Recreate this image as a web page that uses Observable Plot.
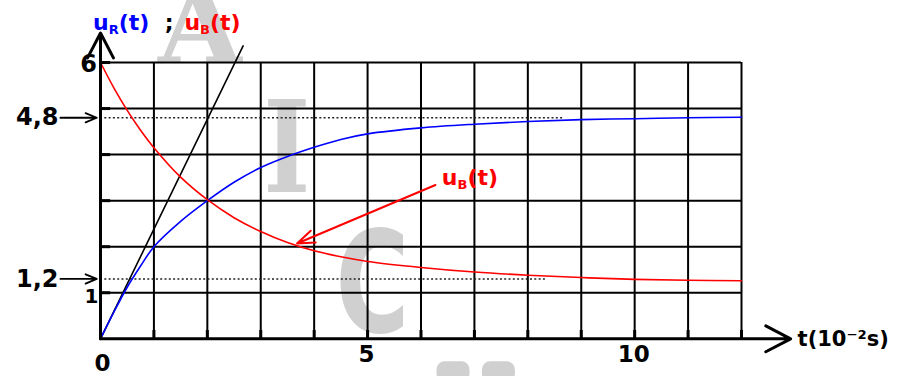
<!DOCTYPE html>
<html>
<head>
<meta charset="utf-8">
<script src="https://cdn.jsdelivr.net/npm/d3@7"></script>
<script src="https://cdn.jsdelivr.net/npm/@observablehq/plot@0.6"></script>
<style>
  html, body { margin: 0; padding: 0; background: #fff; }
</style>
</head>
<body>
<div id="chart"></div>
<script>
// ---- data ----
const tValues = [0, 0.25, 0.5, 0.75, 1, 1.5, 2, 2.5, 3, 3.5, 4, 4.5, 5, 6, 7, 8, 9, 10, 11, 12];
const uRValues = [0, 0.58, 1.12, 1.58, 2.0, 2.55, 3.0, 3.4, 3.72, 3.96, 4.16, 4.33, 4.45, 4.58, 4.66, 4.72, 4.76, 4.78, 4.80, 4.81];
const uBValues = [6.0, 5.45, 4.96, 4.53, 4.15, 3.51, 3.02, 2.63, 2.33, 2.09, 1.91, 1.78, 1.68, 1.55, 1.45, 1.38, 1.33, 1.29, 1.27, 1.26];
const tangentT = [0, 2.67];
const tangentU = [0, 6.36];
const xGrid = [1, 2, 3, 4, 5, 6, 7, 8, 9, 10, 11, 12];
const yGrid = [1, 2, 3, 4, 5, 6];
const dottedLevels = [4.8, 1.3];
const dottedEnds = [8.67, 8.33];
const dottedLabels = ["4,8", "1,2"];
const xTickValues = [5, 10];
const xTickLabels = ["5", "10"];

const font = "DejaVu Sans";
const blue = "#0000ff";
const red = "#ff0000";

const uR = tValues.map((t, i) => ({t, u: uRValues[i]}));
const uB = tValues.map((t, i) => ({t, u: uBValues[i]}));
const tangent = tangentT.map((t, i) => ({t, u: tangentU[i]}));
const dotted = dottedLevels.map((v, i) => ({v, end: dottedEnds[i], label: dottedLabels[i]}));
const xTicks = xTickValues.map((v, i) => ({v, label: xTickLabels[i]}));

const plot = Plot.plot({
  width: 912,
  height: 376,
  marginLeft: 100,
  marginRight: 171,
  marginTop: 62,
  marginBottom: 37.7,
  x: {domain: [0, 12], axis: null},
  y: {domain: [0, 6], axis: null},
  style: {fontFamily: font, background: "#fff", overflow: "visible"},
  marks: [
    // grid
    Plot.ruleX(xGrid, {x: d => d, y1: 0, y2: 6, stroke: "#000", strokeWidth: 2}),
    Plot.ruleY(yGrid, {y: d => d, x1: 0, x2: 12, stroke: "#000", strokeWidth: 2}),
    // thick ticks on axes
    Plot.ruleX(xGrid, {x: d => d, y1: 0, y2: 0.18, stroke: "#000", strokeWidth: 3}),
    Plot.ruleY(yGrid, {y: d => d, x1: 0, x2: 0.19, stroke: "#000", strokeWidth: 3}),
    // dotted asymptote lines
    Plot.ruleY(dotted, {y: "v", x1: 0, x2: "end", stroke: "#222", strokeWidth: 1.5, strokeDasharray: "2,2.3"}),
    // tangent
    Plot.line(tangent, {x: "t", y: "u", stroke: "#000", strokeWidth: 1.6}),
    // curves
    Plot.line(uR, {x: "t", y: "u", stroke: blue, strokeWidth: 1.6, curve: "catmull-rom"}),
    Plot.line(uB, {x: "t", y: "u", stroke: red, strokeWidth: 1.6, curve: "catmull-rom"}),
    // axes with arrows
    Plot.arrow([0], {x1: 0, y1: 0, x2: 12.92, y2: 0, stroke: "#000", strokeWidth: 3, headLength: 14, headAngle: 55}),
    Plot.arrow([0], {x1: 0, y1: 0, x2: 0, y2: 6.64, stroke: "#000", strokeWidth: 3, headLength: 14, headAngle: 55}),
    // label arrows
    Plot.arrow(dotted, {x1: -0.75, x2: -0.07, y1: "v", y2: "v", stroke: "#000", strokeWidth: 1.8, headLength: 11, headAngle: 45}),
    // annotation arrow
    Plot.arrow([0], {x1: 6.27, y1: 3.34, x2: 3.68, y2: 2.07, stroke: red, strokeWidth: 2, headLength: 14, headAngle: 40}),
    // tick labels
    Plot.text(dotted, {x: 0, y: "v", text: "label", dx: -42, textAnchor: "end", fontSize: 24, fontWeight: "bold", fill: "#000"}),
    Plot.text([6], {x: 0, y: d => d, text: d => String(d), dx: -12, dy: 2, fontSize: 24, fontWeight: "bold", fill: "#000"}),
    Plot.text([1], {x: 0, y: d => d, text: d => String(d), dx: -9, dy: 4, fontSize: 20, fontWeight: "bold", fill: "#000"}),
    Plot.text([0], {x: 0, y: 0, text: d => String(d), dx: 2, dy: 25, fontSize: 23, fontWeight: "bold", fill: "#000"}),
    Plot.text(xTicks, {x: "v", y: 0, text: "label", dx: -1, dy: 16, fontSize: 23, fontWeight: "bold", fill: "#000"}),
    Plot.text(["t(10⁻²s)"], {x: 13.05, y: 0, text: d => d, textAnchor: "start", fontSize: 21, fontWeight: "bold", fill: "#000"})
  ]
});

document.getElementById("chart").appendChild(plot);

// ---- annotations with subscripts and faint watermark ----
const sx = plot.scale("x").apply, sy = plot.scale("y").apply;
const svg = d3.select(plot);

// watermark behind everything
const wm = svg.insert("g", "g").attr("fill", "#d0d0d0").attr("font-weight", "bold");
wm.append("text").attr("font-family", "DejaVu Serif").attr("font-size", 108)
  .attr("text-anchor", "middle").attr("transform", `translate(${sx(1.87)},${sy(5.97)})`).text("A");
wm.append("text").attr("font-family", "DejaVu Serif").attr("font-size", 128)
  .attr("text-anchor", "middle").attr("transform", `translate(${sx(3.5)},${sy(3.17)}) scale(0.78,1)`).text("I");
wm.append("text").attr("font-family", font).attr("font-size", 140)
  .attr("text-anchor", "middle").attr("transform", `translate(${sx(5.1)},${sy(0.13)}) scale(0.72,1)`).text("C");
wm.append("rect").attr("x", sx(6.3)).attr("y", sy(-0.5)).attr("width", 33).attr("height", 20).attr("rx", 8);
wm.append("rect").attr("x", sx(7.15)).attr("y", sy(-0.5)).attr("width", 33).attr("height", 20).attr("rx", 8);

function labelU(g, x, y, sub, color) {
  const t = g.append("text").attr("x", x).attr("y", y).attr("fill", color)
    .attr("text-anchor", "start")
    .attr("font-family", font).attr("font-weight", "bold").attr("font-size", 22);
  t.append("tspan").text("u");
  t.append("tspan").attr("font-size", 13).attr("dy", 4).text(sub);
  t.append("tspan").attr("dy", -4).text("(t)");
  return t;
}
const ann = svg.append("g");
labelU(ann, sx(-0.13), sy(6.69), "R", blue);
ann.append("text").attr("x", sx(1.21)).attr("y", sy(6.69)).attr("fill", "#000")
  .attr("text-anchor", "start")
  .attr("font-family", font).attr("font-weight", "bold").attr("font-size", 22).text(";");
labelU(ann, sx(1.58), sy(6.69), "B", red);
labelU(ann, sx(6.4), sy(3.33), "B", red);
</script>
</body>
</html>
